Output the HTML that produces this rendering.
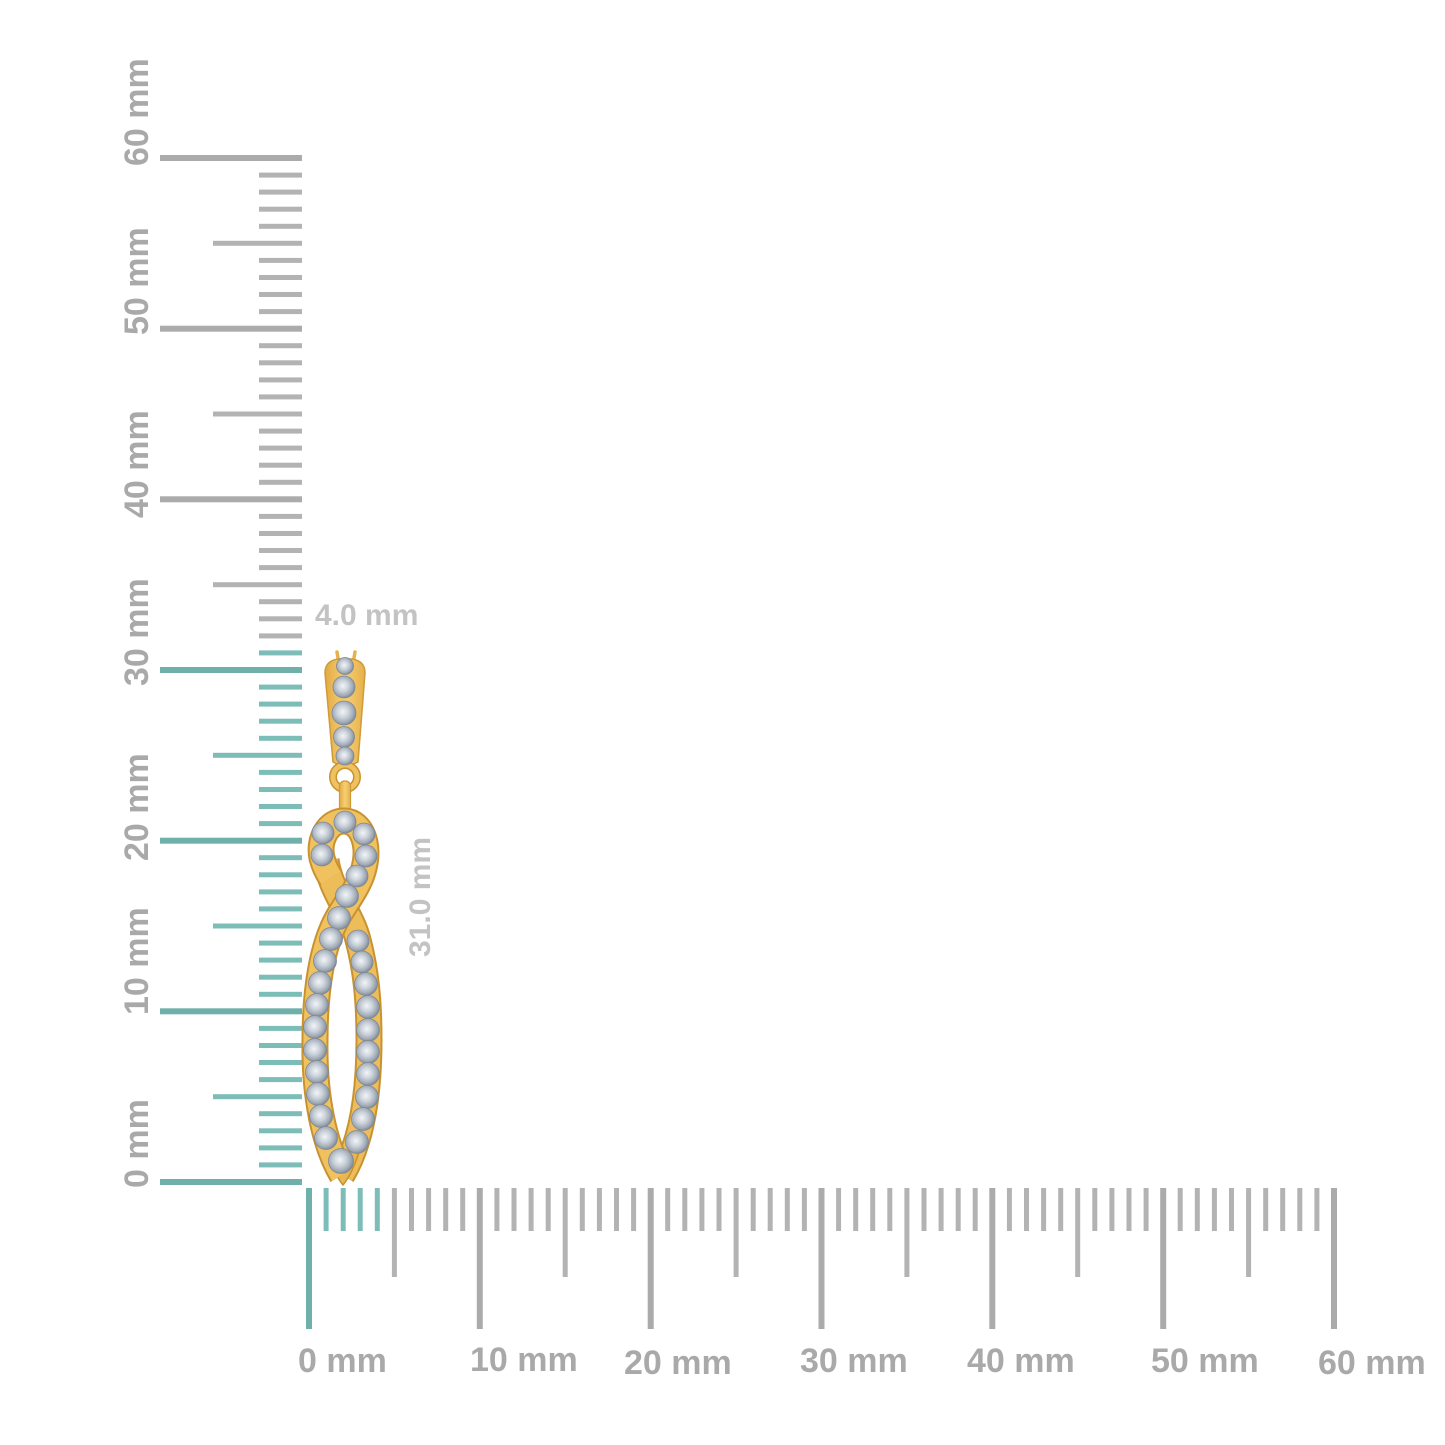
<!DOCTYPE html>
<html>
<head>
<meta charset="utf-8">
<style>
html,body{margin:0;padding:0;background:#fff;}
svg{display:block;}
.t{fill:#7dbdb8}
.tM{fill:#70b0ab}
.g{fill:#b3b3b3}
.gM{fill:#ababab}
.lbl{font-family:"Liberation Sans",Arial,sans-serif;font-weight:bold;font-size:34px;fill:#a9a9a9;}
.dim{font-family:"Liberation Sans",Arial,sans-serif;font-weight:bold;font-size:30px;fill:#c3c3c3;}
</style>
</head>
<body>
<svg width="1445" height="1445" viewBox="0 0 1445 1445" xmlns="http://www.w3.org/2000/svg">
<defs>
  <linearGradient id="gold" x1="0" y1="0" x2="1" y2="0">
    <stop offset="0" stop-color="#e2aa45"/>
    <stop offset="0.5" stop-color="#f6cf74"/>
    <stop offset="1" stop-color="#e6b04b"/>
  </linearGradient>
  <radialGradient id="dia" cx="0.45" cy="0.45" r="0.6">
    <stop offset="0" stop-color="#f2f5f8"/>
    <stop offset="0.4" stop-color="#ccd3db"/>
    <stop offset="0.75" stop-color="#a0aab6"/>
    <stop offset="1" stop-color="#717b88"/>
  </radialGradient>
</defs>

<!-- Vertical ruler ticks -->
<g>
<rect class="tM" x="160" y="1179" width="142" height="6"/>
<rect class="t" x="259" y="1162.4" width="43" height="5"/>
<rect class="t" x="259" y="1145.4" width="43" height="5"/>
<rect class="t" x="259" y="1128.3" width="43" height="5"/>
<rect class="t" x="259" y="1111.2" width="43" height="5"/>
<rect class="t" x="213" y="1094.2" width="89" height="5"/>
<rect class="t" x="259" y="1077.1" width="43" height="5"/>
<rect class="t" x="259" y="1060" width="43" height="5"/>
<rect class="t" x="259" y="1043" width="43" height="5"/>
<rect class="t" x="259" y="1025.9" width="43" height="5"/>
<rect class="tM" x="160" y="1008.3" width="142" height="6"/>
<rect class="t" x="259" y="991.8" width="43" height="5"/>
<rect class="t" x="259" y="974.7" width="43" height="5"/>
<rect class="t" x="259" y="957.6" width="43" height="5"/>
<rect class="t" x="259" y="940.6" width="43" height="5"/>
<rect class="t" x="213" y="923.5" width="89" height="5"/>
<rect class="t" x="259" y="906.4" width="43" height="5"/>
<rect class="t" x="259" y="889.4" width="43" height="5"/>
<rect class="t" x="259" y="872.3" width="43" height="5"/>
<rect class="t" x="259" y="855.2" width="43" height="5"/>
<rect class="tM" x="160" y="837.7" width="142" height="6"/>
<rect class="t" x="259" y="821.1" width="43" height="5"/>
<rect class="t" x="259" y="804" width="43" height="5"/>
<rect class="t" x="259" y="787" width="43" height="5"/>
<rect class="t" x="259" y="769.9" width="43" height="5"/>
<rect class="t" x="213" y="752.8" width="89" height="5"/>
<rect class="t" x="259" y="735.8" width="43" height="5"/>
<rect class="t" x="259" y="718.7" width="43" height="5"/>
<rect class="t" x="259" y="701.6" width="43" height="5"/>
<rect class="t" x="259" y="684.6" width="43" height="5"/>
<rect class="tM" x="160" y="667" width="142" height="6"/>
<rect class="t" x="259" y="650.4" width="43" height="5"/>
<rect class="g" x="259" y="633.4" width="43" height="5"/>
<rect class="g" x="259" y="616.3" width="43" height="5"/>
<rect class="g" x="259" y="599.2" width="43" height="5"/>
<rect class="g" x="213" y="582.2" width="89" height="5"/>
<rect class="g" x="259" y="565.1" width="43" height="5"/>
<rect class="g" x="259" y="548" width="43" height="5"/>
<rect class="g" x="259" y="531" width="43" height="5"/>
<rect class="g" x="259" y="513.9" width="43" height="5"/>
<rect class="gM" x="160" y="496.3" width="142" height="6"/>
<rect class="g" x="259" y="479.8" width="43" height="5"/>
<rect class="g" x="259" y="462.7" width="43" height="5"/>
<rect class="g" x="259" y="445.6" width="43" height="5"/>
<rect class="g" x="259" y="428.6" width="43" height="5"/>
<rect class="g" x="213" y="411.5" width="89" height="5"/>
<rect class="g" x="259" y="394.4" width="43" height="5"/>
<rect class="g" x="259" y="377.4" width="43" height="5"/>
<rect class="g" x="259" y="360.3" width="43" height="5"/>
<rect class="g" x="259" y="343.2" width="43" height="5"/>
<rect class="gM" x="160" y="325.7" width="142" height="6"/>
<rect class="g" x="259" y="309.1" width="43" height="5"/>
<rect class="g" x="259" y="292" width="43" height="5"/>
<rect class="g" x="259" y="275" width="43" height="5"/>
<rect class="g" x="259" y="257.9" width="43" height="5"/>
<rect class="g" x="213" y="240.8" width="89" height="5"/>
<rect class="g" x="259" y="223.8" width="43" height="5"/>
<rect class="g" x="259" y="206.7" width="43" height="5"/>
<rect class="g" x="259" y="189.6" width="43" height="5"/>
<rect class="g" x="259" y="172.6" width="43" height="5"/>
<rect class="gM" x="160" y="155" width="142" height="6"/>
</g>

<!-- Horizontal ruler ticks -->
<g>
<rect class="tM" x="306" y="1188" width="6" height="141"/>
<rect class="t" x="323.6" y="1188" width="5" height="43"/>
<rect class="t" x="340.7" y="1188" width="5" height="43"/>
<rect class="t" x="357.7" y="1188" width="5" height="43"/>
<rect class="t" x="374.8" y="1188" width="5" height="43"/>
<rect class="g" x="391.9" y="1188" width="5" height="89"/>
<rect class="g" x="409" y="1188" width="5" height="43"/>
<rect class="g" x="426.1" y="1188" width="5" height="43"/>
<rect class="g" x="443.2" y="1188" width="5" height="43"/>
<rect class="g" x="460.2" y="1188" width="5" height="43"/>
<rect class="gM" x="476.8" y="1188" width="6" height="141"/>
<rect class="g" x="494.4" y="1188" width="5" height="43"/>
<rect class="g" x="511.5" y="1188" width="5" height="43"/>
<rect class="g" x="528.6" y="1188" width="5" height="43"/>
<rect class="g" x="545.7" y="1188" width="5" height="43"/>
<rect class="g" x="562.7" y="1188" width="5" height="89"/>
<rect class="g" x="579.8" y="1188" width="5" height="43"/>
<rect class="g" x="596.9" y="1188" width="5" height="43"/>
<rect class="g" x="614" y="1188" width="5" height="43"/>
<rect class="g" x="631.1" y="1188" width="5" height="43"/>
<rect class="gM" x="647.7" y="1188" width="6" height="141"/>
<rect class="g" x="665.2" y="1188" width="5" height="43"/>
<rect class="g" x="682.3" y="1188" width="5" height="43"/>
<rect class="g" x="699.4" y="1188" width="5" height="43"/>
<rect class="g" x="716.5" y="1188" width="5" height="43"/>
<rect class="g" x="733.6" y="1188" width="5" height="89"/>
<rect class="g" x="750.7" y="1188" width="5" height="43"/>
<rect class="g" x="767.7" y="1188" width="5" height="43"/>
<rect class="g" x="784.8" y="1188" width="5" height="43"/>
<rect class="g" x="801.9" y="1188" width="5" height="43"/>
<rect class="gM" x="818.5" y="1188" width="6" height="141"/>
<rect class="g" x="836.1" y="1188" width="5" height="43"/>
<rect class="g" x="853.2" y="1188" width="5" height="43"/>
<rect class="g" x="870.2" y="1188" width="5" height="43"/>
<rect class="g" x="887.3" y="1188" width="5" height="43"/>
<rect class="g" x="904.4" y="1188" width="5" height="89"/>
<rect class="g" x="921.5" y="1188" width="5" height="43"/>
<rect class="g" x="938.6" y="1188" width="5" height="43"/>
<rect class="g" x="955.7" y="1188" width="5" height="43"/>
<rect class="g" x="972.7" y="1188" width="5" height="43"/>
<rect class="gM" x="989.3" y="1188" width="6" height="141"/>
<rect class="g" x="1006.9" y="1188" width="5" height="43"/>
<rect class="g" x="1024" y="1188" width="5" height="43"/>
<rect class="g" x="1041.1" y="1188" width="5" height="43"/>
<rect class="g" x="1058.2" y="1188" width="5" height="43"/>
<rect class="g" x="1075.2" y="1188" width="5" height="89"/>
<rect class="g" x="1092.3" y="1188" width="5" height="43"/>
<rect class="g" x="1109.4" y="1188" width="5" height="43"/>
<rect class="g" x="1126.5" y="1188" width="5" height="43"/>
<rect class="g" x="1143.6" y="1188" width="5" height="43"/>
<rect class="gM" x="1160.2" y="1188" width="6" height="141"/>
<rect class="g" x="1177.7" y="1188" width="5" height="43"/>
<rect class="g" x="1194.8" y="1188" width="5" height="43"/>
<rect class="g" x="1211.9" y="1188" width="5" height="43"/>
<rect class="g" x="1229" y="1188" width="5" height="43"/>
<rect class="g" x="1246.1" y="1188" width="5" height="89"/>
<rect class="g" x="1263.2" y="1188" width="5" height="43"/>
<rect class="g" x="1280.2" y="1188" width="5" height="43"/>
<rect class="g" x="1297.3" y="1188" width="5" height="43"/>
<rect class="g" x="1314.4" y="1188" width="5" height="43"/>
<rect class="gM" x="1331" y="1188" width="6" height="141"/>
</g>

<!-- Vertical axis labels -->
<text class="lbl" transform="translate(148,166) rotate(-90)">60 mm</text>
<text class="lbl" transform="translate(148,335) rotate(-90)">50 mm</text>
<text class="lbl" transform="translate(148,518) rotate(-90)">40 mm</text>
<text class="lbl" transform="translate(148,686) rotate(-90)">30 mm</text>
<text class="lbl" transform="translate(148,861) rotate(-90)">20 mm</text>
<text class="lbl" transform="translate(148,1015) rotate(-90)">10 mm</text>
<text class="lbl" transform="translate(148,1188) rotate(-90)">0 mm</text>

<!-- Horizontal axis labels -->
<text class="lbl" x="298" y="1372">0 mm</text>
<text class="lbl" x="470" y="1371">10 mm</text>
<text class="lbl" x="624" y="1374">20 mm</text>
<text class="lbl" x="800" y="1372">30 mm</text>
<text class="lbl" x="967" y="1372">40 mm</text>
<text class="lbl" x="1151" y="1372">50 mm</text>
<text class="lbl" x="1318" y="1374">60 mm</text>

<!-- Dimension labels -->
<text class="dim" x="315" y="625">4.0 mm</text>
<text class="dim" transform="translate(430,957) rotate(-90)">31.0 mm</text>

<!-- Earring -->
<g>
  <!-- prongs -->
  <line x1="337" y1="652" x2="339" y2="664" stroke="#e6b24c" stroke-width="3.5" stroke-linecap="round"/>
  <line x1="355" y1="652" x2="353" y2="664" stroke="#e6b24c" stroke-width="3.5" stroke-linecap="round"/>
  <!-- bail -->
  <path d="M325,673 Q325,661 338,659 L352,659 Q365,661 365,673 L358,762 Q345,769 333,762 Z" fill="url(#gold)" stroke="#cf9a38" stroke-width="1.5"/>
  <!-- jump ring -->
  <circle cx="345" cy="777" r="12" fill="none" stroke="#c8922f" stroke-width="8"/>
  <circle cx="345" cy="777" r="12" fill="none" stroke="#efc15f" stroke-width="5"/>
  <rect x="339.5" y="781" width="11" height="38" rx="5" fill="url(#gold)" stroke="#cf9a38" stroke-width="1.2"/>

  <!-- behind strand -->
  <path d="M326,860 C330,890 352,915 358,940 C366,970 369,1000 369,1040 C369,1100 360,1145 342,1175" fill="none" stroke="#c8922f" stroke-width="27"/>
  <path d="M326,860 C330,890 352,915 358,940 C366,970 369,1000 369,1040 C369,1100 360,1145 342,1175" fill="none" stroke="#edbd5a" stroke-width="23"/>
  <!-- tip -->
  <path d="M327,1152 Q334,1174 343,1185 Q352,1174 359,1152 Z" fill="#e9b750" stroke="#c8922f" stroke-width="1.5"/>
  <!-- front strand -->
  <path d="M342,1175 C324,1145 314,1095 315,1040 C315,990 322,945 338,917 C348,900 360,885 364,868 C370,845 362,822 345,821 C328,820 318,840 322,858 C324,866 327,872 331,878" fill="none" stroke="#c8922f" stroke-width="27"/>
  <path d="M342,1175 C324,1145 314,1095 315,1040 C315,990 322,945 338,917 C348,900 360,885 364,868 C370,845 362,822 345,821 C328,820 318,840 322,858 C324,866 327,872 331,878" fill="none" stroke="#f0c25f" stroke-width="23"/>

  <!-- diamonds -->
  <g fill="url(#dia)" stroke="#7f8895" stroke-width="0.8">
    <circle cx="345" cy="666" r="8.5"/>
    <circle cx="344" cy="687" r="11"/>
    <circle cx="344" cy="713" r="12"/>
    <circle cx="344" cy="737" r="10.5"/>
    <circle cx="345" cy="756" r="9"/>

    <!-- lower right (behind strand) -->
    <circle cx="358" cy="941" r="11"/>
    <circle cx="362" cy="962" r="11"/>
    <circle cx="366" cy="984" r="11.5"/>
    <circle cx="368" cy="1007" r="11.5"/>
    <circle cx="368" cy="1030" r="11.5"/>
    <circle cx="368" cy="1052" r="11.5"/>
    <circle cx="368" cy="1074" r="11.5"/>
    <circle cx="367" cy="1097" r="11.5"/>
    <circle cx="363" cy="1119" r="11.5"/>
    <circle cx="357" cy="1142" r="11.5"/>

    <!-- upper loop -->
    <circle cx="323" cy="833" r="11"/>
    <circle cx="322" cy="855" r="11"/>
    <circle cx="345" cy="822" r="11"/>
    <circle cx="364" cy="834" r="11"/>
    <circle cx="366" cy="856" r="11"/>
    <circle cx="357" cy="876" r="11"/>

    <!-- front strand -->
    <circle cx="347" cy="896" r="11.5"/>
    <circle cx="339" cy="918" r="11.5"/>
    <circle cx="331" cy="939" r="11.5"/>
    <circle cx="325" cy="961" r="11.5"/>
    <circle cx="320" cy="983" r="11.5"/>
    <circle cx="317" cy="1005" r="11.5"/>
    <circle cx="315" cy="1027" r="11.5"/>
    <circle cx="315" cy="1050" r="11.5"/>
    <circle cx="317" cy="1072" r="11.5"/>
    <circle cx="318" cy="1094" r="11.5"/>
    <circle cx="321" cy="1116" r="11.5"/>
    <circle cx="326" cy="1138" r="11.5"/>
    <circle cx="341" cy="1161" r="12.5"/>
  </g>
</g>
</svg>
</body>
</html>
